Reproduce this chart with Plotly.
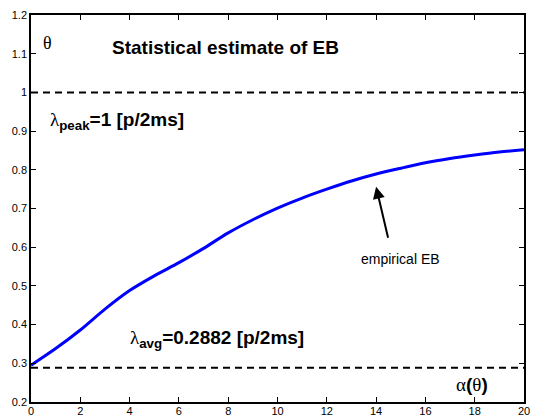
import plotly.graph_objects as go

# data
alpha_x = [0, 1, 2, 3, 4, 5, 6, 7, 8, 9, 10, 11, 12, 13, 14, 15, 16, 17, 18, 19, 20]
theta_eb = [0.295, 0.338, 0.386, 0.440, 0.488, 0.526, 0.560, 0.597, 0.637, 0.671, 0.701,
            0.727, 0.750, 0.771, 0.789, 0.804, 0.818, 0.829, 0.838, 0.846, 0.852]
lambda_peak = 1.0
lambda_avg = 0.2882
x_ticks = [0, 2, 4, 6, 8, 10, 12, 14, 16, 18, 20]
y_ticks = [0.2, 0.3, 0.4, 0.5, 0.6, 0.7, 0.8, 0.9, 1.0, 1.1, 1.2]
y_ticktext = ["0.2", "0.3", "0.4", "0.5", "0.6", "0.7", "0.8", "0.9", "1", "1.1", "1.2"]

SANS = "Liberation Sans, Arial, sans-serif"
SERIF = "Liberation Serif, DejaVu Serif, serif"

fig = go.Figure()

fig.add_trace(go.Scatter(x=[0, 20], y=[lambda_peak, lambda_peak], mode="lines",
                         line=dict(color="black", width=2, dash="7px,5px"),
                         hoverinfo="skip", showlegend=False))
fig.add_trace(go.Scatter(x=[0, 20], y=[lambda_avg, lambda_avg], mode="lines",
                         line=dict(color="black", width=2, dash="7px,5px"),
                         hoverinfo="skip", showlegend=False))
fig.add_trace(go.Scatter(x=alpha_x, y=theta_eb, mode="lines",
                         line=dict(color="#0000FF", width=3, shape="spline", smoothing=0.8),
                         showlegend=False))

def lam(sub, rest):
    return (f"<span style='font-family:{SERIF};font-weight:normal'>λ</span>"
            f"<b><sub>{sub}</sub>{rest}</b>")

annotations = [
    dict(x=0.67, y=1.128, text=f"<span style='font-family:{SERIF}'>θ</span>",
         font=dict(size=18, color="black"), xanchor="center", yanchor="middle"),
    dict(x=3.2, y=1.117, text="<b>Statistical estimate of EB</b>",
         font=dict(size=19, color="black", family=SANS), xanchor="left", yanchor="middle"),
    dict(x=0.69, y=0.925, text=lam("peak", "=1 [p/2ms]"),
         font=dict(size=19, color="black", family=SANS), xanchor="left", yanchor="middle"),
    dict(x=3.93, y=0.364, text=lam("avg", "=0.2882 [p/2ms]"),
         font=dict(size=19, color="black", family=SANS), xanchor="left", yanchor="middle"),
    dict(x=17.9, y=0.2444,
         text=f"<span style='font-family:{SERIF}'>α</span><b>(</b><span style='font-family:{SERIF}'>θ</span><b>)</b>",
         font=dict(size=19, color="black", family=SANS), xanchor="center", yanchor="middle"),
    dict(x=14.97, y=0.5695, text="empirical EB",
         font=dict(size=14, color="black", family=SANS), xanchor="center", yanchor="middle"),
    dict(x=14.0, y=0.7561, ax=14.5, ay=0.6204, axref="x", ayref="y", xref="x", yref="y",
         text="", showarrow=True, arrowhead=2, arrowsize=1.2, arrowwidth=2, arrowcolor="black"),
]
for a in annotations:
    a.setdefault("showarrow", False)
    a.setdefault("xref", "x")
    a.setdefault("yref", "y")

fig.update_layout(
    width=542, height=417,
    margin=dict(l=31, r=18, t=15, b=15),
    paper_bgcolor="white", plot_bgcolor="white",
    font=dict(family=SANS, size=11, color="black"),
    annotations=annotations,
    xaxis=dict(range=[0, 20], tickvals=x_ticks, showgrid=False, zeroline=False,
               showline=True, linecolor="black", linewidth=1.5, mirror="ticks",
               ticks="inside", ticklen=5, tickcolor="black", tickwidth=1,
               tickfont=dict(size=11), ticklabelstandoff=-2, automargin=False),
    yaxis=dict(range=[0.2, 1.2], tickvals=y_ticks, ticktext=y_ticktext, showgrid=False,
               zeroline=False, showline=True, linecolor="black", linewidth=1.5, mirror="ticks",
               ticks="inside", ticklen=5, tickcolor="black", tickwidth=1,
               tickfont=dict(size=11), automargin=False),
)

fig.write_html("out.html",
               config={"displayModeBar": False},
               post_script="document.body.style.margin='0';document.body.style.padding='0';"
                           "document.body.style.overflow='hidden';")
